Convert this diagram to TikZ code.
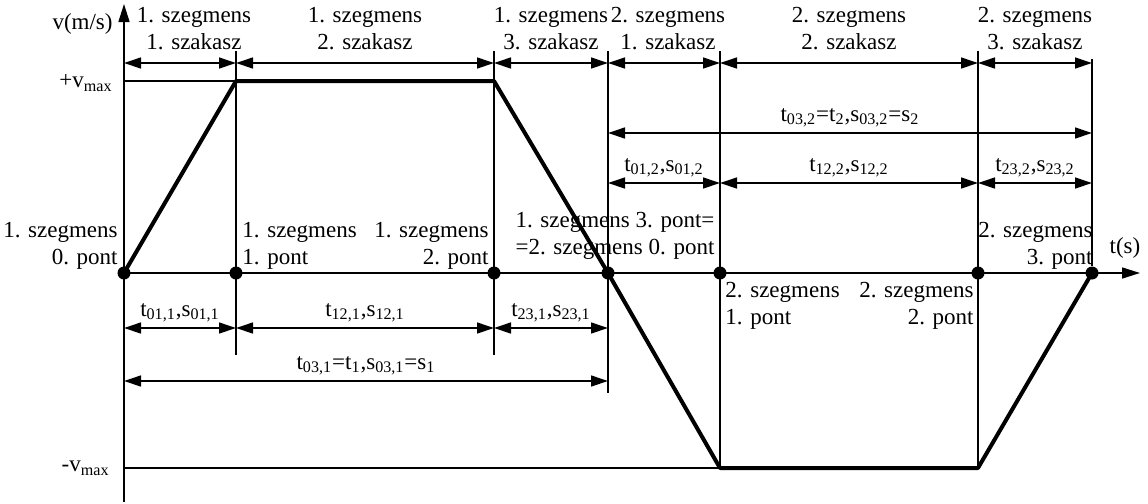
\documentclass[tikz,border=0pt]{standalone}
\usepackage{fontspec}
\setmainfont{Liberation Serif}
\usetikzlibrary{positioning,arrows.meta}

\begin{document}
\begin{tikzpicture}[
    x=0.5pt,
    y=-0.5pt,
    font=\fontsize{11.5}{13.5}\selectfont,
    dot/.style={
        circle,
        fill,
        inner sep=0pt,
        minimum size=6.5pt
    },
    guide/.style={line width=0.65pt},
    profile/.style={line width=2pt, line join=round},
    dim/.style={
        line width=0.65pt,
        {Triangle[length=8.5pt,width=5.5pt]}-{Triangle[length=8.5pt,width=5.5pt]}
    },
    axis/.style={line width=0.8pt, -{Triangle[length=9pt,width=5.5pt]}},
    lbl/.style={inner sep=0pt, align=center}
]
\useasboundingbox (0,0) rectangle (1148,504);

% Axes
\coordinate (ytop) at (124,4);
\coordinate (ybot) at (124,502);
\coordinate (xend) at (1140,273);
\draw[axis] (ybot) -- (ytop);
\draw[axis] (124,273) -- (xend);

% Points of the two segments
\node[dot] (p0) at (124,273) {};
\node[dot] (p1) at (236,273) {};
\node[dot] (p2) at (494,273) {};
\node[dot] (p3) at (608,273) {};
\node[dot] (q1) at (720,273) {};
\node[dot] (q2) at (978,273) {};
\node[dot] (q3) at (1092,273) {};

% Levels
\coordinate (vmaxp) at (124,81);
\coordinate (vmaxn) at (124,468);
\coordinate (tick) at (0,51);
\coordinate (low1) at (0,355);
\coordinate (low2) at (0,393);
\coordinate (topdim) at (0,63);
\coordinate (row2) at (0,133);
\coordinate (row3) at (0,183);
\coordinate (row4) at (0,328);
\coordinate (row5) at (0,381);

% Vertical guides
\draw[guide] (p1 |- tick) -- (p1 |- low1);
\draw[guide] (p2 |- tick) -- (p2 |- low1);
\draw[guide] (p3 |- tick) -- (p3 |- low2);
\draw[guide] (q1 |- tick) -- (q1 |- vmaxn);
\draw[guide] (q2 |- tick) -- (q2 |- vmaxn);
\draw[guide] ([yshift=2pt]q3 |- topdim) -- (q3);

% Speed limits
\draw[guide] (vmaxp) -- (p1 |- vmaxp);
\draw[guide] (vmaxn) -- (q1 |- vmaxn);

% Velocity profile
\draw[profile] (p0.center) -- (p1 |- vmaxp) -- (p2 |- vmaxp) -- (p3.center)
    -- (q1 |- vmaxn) -- (q2 |- vmaxn) -- (q3.center);

% Sections on top
\draw[dim] (p0 |- topdim) -- node[lbl, above=6.5pt, xshift=7pt] (s11) {1. szegmens\\1. szakasz} (p1 |- topdim);
\draw[dim] (p1 |- topdim) -- node[lbl, above=6.5pt] (s12) {1. szegmens\\2. szakasz} (p2 |- topdim);
\draw[dim] (p2 |- topdim) -- node[lbl, above=6.5pt] (s13) {1. szegmens\\3. szakasz} (p3 |- topdim);
\draw[dim] (p3 |- topdim) -- node[lbl, above=6.5pt, xshift=2pt] (s21) {2. szegmens\\1. szakasz} (q1 |- topdim);
\draw[dim] (q1 |- topdim) -- node[lbl, above=6.5pt] (s22) {2. szegmens\\2. szakasz} (q2 |- topdim);
\draw[dim] (q2 |- topdim) -- node[lbl, above=6.5pt] (s23) {2. szegmens\\3. szakasz} (q3 |- topdim);

% Times and distances of the 2. segment
\draw[dim] (p3 |- row2) -- node[lbl, above=2.5pt] (t032)
    {t\textsubscript{03,2}=t\textsubscript{2},s\textsubscript{03,2}=s\textsubscript{2}} (q3 |- row2);
\draw[dim] (p3 |- row3) -- node[lbl, above=2.5pt] (t012) {t\textsubscript{01,2},s\textsubscript{01,2}} (q1 |- row3);
\draw[dim] (q1 |- row3) -- node[lbl, above=2.5pt] (t122) {t\textsubscript{12,2},s\textsubscript{12,2}} (q2 |- row3);
\draw[dim] (q2 |- row3) -- node[lbl, above=2.5pt] (t232) {t\textsubscript{23,2},s\textsubscript{23,2}} (q3 |- row3);

% Times and distances of the 1. segment
\draw[dim] (p0 |- row4) -- node[lbl, above=2.5pt] (t011) {t\textsubscript{01,1},s\textsubscript{01,1}} (p1 |- row4);
\draw[dim] (p1 |- row4) -- node[lbl, above=2.5pt] (t121) {t\textsubscript{12,1},s\textsubscript{12,1}} (p2 |- row4);
\draw[dim] (p2 |- row4) -- node[lbl, above=2.5pt] (t231) {t\textsubscript{23,1},s\textsubscript{23,1}} (p3 |- row4);
\draw[dim] (p0 |- row5) -- node[lbl, above=2.5pt] (t031)
    {t\textsubscript{03,1}=t\textsubscript{1},s\textsubscript{03,1}=s\textsubscript{1}} (p3 |- row5);

% Point labels
\node[lbl, align=right, anchor=south east, xshift=-3pt, yshift=1.5pt] (l0) at (p0) {1. szegmens\\0. pont};
\node[lbl, align=left, anchor=south west, xshift=3pt, yshift=1.5pt] (l1) at (p1) {1. szegmens\\1. pont};
\node[lbl, align=right, anchor=south east, xshift=-2.5pt, yshift=1.5pt] (l2) at (p2) {1. szegmens\\2. pont};
\node[lbl, anchor=south, xshift=3.5pt, yshift=6.5pt] (l3) at (p3) {1. szegmens 3. pont=\\=2. szegmens 0. pont};
\node[lbl, align=left, anchor=north west, xshift=2.5pt, yshift=-4.5pt] (m1) at (q1) {2. szegmens\\1. pont};
\node[lbl, align=right, anchor=north east, xshift=-2pt, yshift=-4.5pt] (m2) at (q2) {2. szegmens\\2. pont};
\node[lbl, align=right, anchor=south east, xshift=0.5pt, yshift=1.5pt] (m3) at (q3) {2. szegmens\\3. pont};

% Axis labels
\node[anchor=east, inner sep=0pt] (vlbl) at (113,24) {v(m/s)};
\node[inner sep=0pt] (tlbl) at (1125,248) {t(s)};
\node[anchor=east, inner sep=0pt] (vp) at (113,83) {+v\textsubscript{max}};
\node[anchor=east, inner sep=0pt] (vn) at (110,468) {-v\textsubscript{max}};
\end{tikzpicture}
\end{document}
